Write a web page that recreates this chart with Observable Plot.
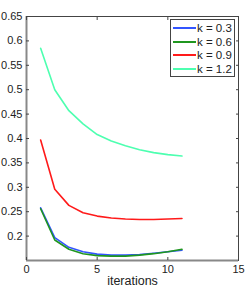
<!DOCTYPE html>
<html><head><meta charset="utf-8">
<script src="https://cdn.jsdelivr.net/npm/d3@7"></script>
<script src="https://cdn.jsdelivr.net/npm/@observablehq/plot@0.6"></script>
<style>
body{margin:0;background:#fff;font-family:"Liberation Sans",Arial,sans-serif;}
#wrap{position:relative;width:249px;height:287px;}
#legend{position:absolute;left:170px;top:19px;width:63px;height:56px;border:1px solid #444;background:#fff;font-size:11.5px;color:#222;}
.row{position:absolute;left:2px;height:14px;line-height:14px;white-space:nowrap;}
.sw{display:inline-block;width:23px;height:2px;vertical-align:middle;margin-right:1px;position:relative;top:-1px;}
</style></head>
<body><div id="wrap"><div id="legend"></div></div>
<script>
const iterations = [1,2,3,4,5,6,7,8,9,10,11];
const k03 = [0.258,0.197,0.177,0.168,0.163,0.161,0.161,0.162,0.165,0.168,0.171];
const k06 = [0.256,0.192,0.173,0.164,0.160,0.159,0.159,0.161,0.164,0.168,0.173];
const k09 = [0.397,0.296,0.263,0.248,0.241,0.237,0.235,0.234,0.234,0.235,0.236];
const k12 = [0.585,0.500,0.457,0.430,0.408,0.395,0.385,0.377,0.371,0.367,0.364];
const seriesNames = ["k = 0.3","k = 0.6","k = 0.9","k = 1.2"];
const seriesColors = ["#3355ff","#1f961f","#ff1a1a","#4dffb0"];
const xTicks = [0,5,10,15];
const yTicks = [0.2,0.25,0.3,0.35,0.4,0.45,0.5,0.55,0.6,0.65];

const allSeries = [k03,k06,k09,k12];
const data = [];
allSeries.forEach((vals,si)=>vals.forEach((v,i)=>data.push({s:seriesNames[si],x:iterations[i],y:v})));

const fmt = d => String(+d.toFixed(2));
const blank = () => "";
const plot = Plot.plot({
  width:249, height:287,
  marginLeft:26, marginRight:11, marginTop:16, marginBottom:27,
  style:{fontFamily:'"Liberation Sans",Arial,sans-serif',fontSize:"11px",color:"#222",background:"#fff"},
  x:{domain:[0,15]},
  y:{domain:[0.15,0.65]},
  marks:[
    Plot.frame({stroke:"#444",strokeWidth:1}),
    Plot.ruleX([0],{stroke:"#888",strokeWidth:2}),
    Plot.ruleY([0.15],{stroke:"#888",strokeWidth:2}),
    Plot.axisY({anchor:"left",ticks:yTicks,tickSize:0,tickPadding:4,tickFormat:fmt,label:null,fill:"#222",fontSize:11}),
    Plot.axisY({anchor:"left",ticks:yTicks,tickSize:-3,tickFormat:blank,label:null,stroke:"#444"}),
    Plot.axisY({anchor:"right",ticks:yTicks,tickSize:-3,tickFormat:blank,label:null,stroke:"#444"}),
    Plot.axisX({anchor:"bottom",ticks:xTicks,tickSize:0,tickPadding:5,tickFormat:d=>String(d),label:null,fill:"#222",fontSize:11}),
    Plot.axisX({anchor:"bottom",ticks:xTicks,tickSize:-3,tickFormat:blank,label:null,stroke:"#444"}),
    Plot.axisX({anchor:"top",ticks:xTicks,tickSize:-3,tickFormat:blank,label:null,stroke:"#444"}),
    Plot.text(["iterations"],{frameAnchor:"bottom",dy:24,fontSize:12.5,fill:"#222"}),
    Plot.line(data,{x:"x",y:"y",z:"s",stroke:"s",strokeWidth:1.6}),
  ],
  color:{domain:seriesNames,range:seriesColors}
});
document.getElementById("wrap").prepend(plot);
const lg = document.getElementById("legend");
seriesNames.forEach((n,i)=>{
  const r=document.createElement("div");r.className="row";r.style.top=(1+i*13.7)+"px";
  r.innerHTML=`<span class="sw" style="background:${seriesColors[i]}"></span>${n}`;
  lg.appendChild(r);
});
</script></body></html>
